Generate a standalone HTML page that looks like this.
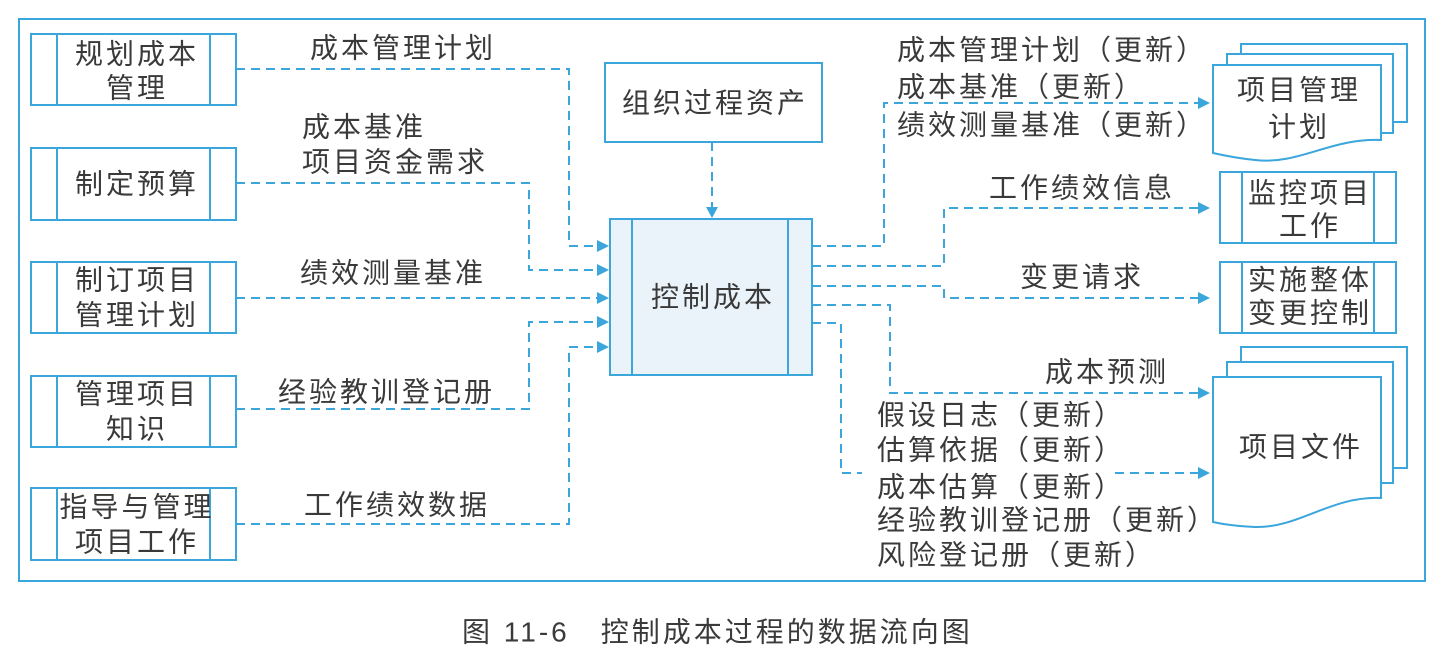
<!DOCTYPE html>
<html><head><meta charset="utf-8">
<style>
html,body{margin:0;padding:0;background:#fff;}
svg{display:block;}
text{font-family:"Liberation Sans","Noto Sans CJK SC",sans-serif;fill:#3a3a3a;font-size:28px;dominant-baseline:central;letter-spacing:3px;}
.b{fill:none;stroke:#3aa6dc;stroke-width:2;}
.d{fill:none;stroke:#3aa6dc;stroke-width:2;stroke-dasharray:9 6;}
.a{fill:#3aa6dc;}
.m{text-anchor:middle;}
</style></head><body>
<svg width="1437" height="664" viewBox="0 0 1437 664" xmlns="http://www.w3.org/2000/svg">
<rect x="19" y="19" width="1406" height="562" class="b"/>
<g class="b">
<rect x="31" y="34" width="205" height="71"/><line x1="57" y1="34" x2="57" y2="105"/><line x1="210" y1="34" x2="210" y2="105"/>
<rect x="31" y="148" width="205" height="72"/><line x1="57" y1="148" x2="57" y2="220"/><line x1="210" y1="148" x2="210" y2="220"/>
<rect x="31" y="262" width="205" height="71"/><line x1="57" y1="262" x2="57" y2="333"/><line x1="210" y1="262" x2="210" y2="333"/>
<rect x="31" y="376" width="205" height="71"/><line x1="57" y1="376" x2="57" y2="447"/><line x1="210" y1="376" x2="210" y2="447"/>
<rect x="31" y="488" width="205" height="72"/><line x1="57" y1="488" x2="57" y2="560"/><line x1="210" y1="488" x2="210" y2="560"/>
</g>
<text x="137" y="54" class="m">规划成本</text><text x="137" y="88" class="m">管理</text>
<text x="137" y="184" class="m">制定预算</text>
<text x="137" y="280" class="m">制订项目</text><text x="137" y="315" class="m">管理计划</text>
<text x="137" y="394" class="m">管理项目</text><text x="137" y="429" class="m">知识</text>
<text x="137" y="507" class="m">指导与管理</text><text x="137" y="542" class="m">项目工作</text>
<rect x="610" y="219" width="202" height="156" fill="#e9f3f9" stroke="#3aa6dc" stroke-width="2"/>
<line x1="632" y1="219" x2="632" y2="375" class="b"/><line x1="788" y1="219" x2="788" y2="375" class="b"/>
<text x="713" y="297" class="m">控制成本</text>
<rect x="605" y="63" width="217" height="79" class="b"/>
<text x="715" y="103" class="m">组织过程资产</text>
<path d="M712 142 V210" class="d"/><path class="a" d="M706 207 L718 207 L712 218 Z"/>
<path class="d" d="M236 69 H569 V246 H598"/>
<path class="d" d="M236 183 H529 V270 H598"/>
<path class="d" d="M236 298 H598"/>
<path class="d" d="M236 409 H529 V322 H598"/>
<path class="d" d="M236 524 H569 V347 H598"/>
<g class="a">
<path d="M597 240 L609 246 L597 252Z"/><path d="M597 264 L609 270 L597 276Z"/><path d="M597 292 L609 298 L597 304Z"/><path d="M597 316 L609 322 L597 328Z"/><path d="M597 341 L609 347 L597 353Z"/>
</g>
<text x="310" y="48">成本管理计划</text>
<text x="302" y="127">成本基准</text>
<text x="302" y="162">项目资金需求</text>
<text x="300" y="273">绩效测量基准</text>
<text x="278" y="392">经验教训登记册</text>
<text x="304" y="505">工作绩效数据</text>
<path class="d" d="M812 246 H884 V103 H1200"/>
<path class="d" d="M812 266 H944 V208 H1200"/>
<path class="d" d="M812 286 H944 V298 H1200"/>
<path class="d" d="M812 305 H890 V393 H1200"/>
<path class="d" d="M812 323 H841 V473 H862"/>
<path class="d" d="M1115 473 H1200"/>
<g class="a">
<path d="M1198 97 L1210 103 L1198 109Z"/><path d="M1198 202 L1210 208 L1198 214Z"/><path d="M1198 292 L1210 298 L1198 304Z"/><path d="M1198 387 L1210 393 L1198 399Z"/><path d="M1198 467 L1210 473 L1198 479Z"/>
</g>
<text x="897" y="50">成本管理计划（更新）</text>
<text x="897" y="87">成本基准（更新）</text>
<text x="897" y="125">绩效测量基准（更新）</text>
<text x="989" y="188">工作绩效信息</text>
<text x="1020" y="277">变更请求</text>
<text x="1045" y="372">成本预测</text>
<text x="877" y="415">假设日志（更新）</text>
<text x="877" y="450">估算依据（更新）</text>
<text x="877" y="487">成本估算（更新）</text>
<text x="877" y="520">经验教训登记册（更新）</text>
<text x="877" y="555">风险登记册（更新）</text>
<g fill="#fff" stroke="#3aa6dc" stroke-width="2">
<rect x="1241" y="44" width="166" height="78"/>
<rect x="1227" y="54" width="166" height="79"/>
<path d="M1213 65 H1381 V140 C1330 138 1300 165 1255 160 C1235 158 1222 155 1213 153 Z"/>
</g>
<text x="1299" y="90" class="m">项目管理</text>
<text x="1299" y="127" class="m">计划</text>
<g class="b">
<rect x="1220" y="172" width="176" height="71"/><line x1="1242" y1="172" x2="1242" y2="243"/><line x1="1374" y1="172" x2="1374" y2="243"/>
<rect x="1220" y="262" width="176" height="71"/><line x1="1242" y1="262" x2="1242" y2="333"/><line x1="1374" y1="262" x2="1374" y2="333"/>
</g>
<text x="1310" y="193" class="m">监控项目</text><text x="1310" y="226" class="m">工作</text>
<text x="1310" y="280" class="m">实施整体</text><text x="1310" y="313" class="m">变更控制</text>
<g fill="#fff" stroke="#3aa6dc" stroke-width="2">
<rect x="1241" y="347" width="166" height="121"/>
<rect x="1227" y="362" width="166" height="121"/>
<path d="M1213 377 H1381 V498 C1330 496 1300 528 1255 527 C1235 526 1222 524 1213 522 Z"/>
</g>
<text x="1301" y="447" class="m">项目文件</text>
<text x="462" y="632">图 11-6　控制成本过程的数据流向图</text>
</svg>
</body></html>
